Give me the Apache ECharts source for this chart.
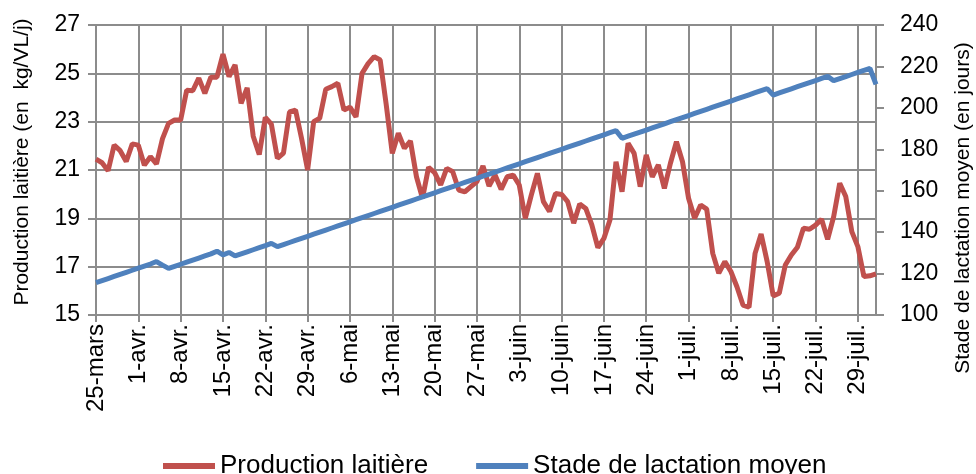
<!DOCTYPE html>
<html>
<head>
<meta charset="utf-8">
<script src="https://cdn.jsdelivr.net/npm/echarts@6/dist/echarts.min.js"></script>
<style>
  html, body { margin: 0; padding: 0; background: #fff; }
  #chart { width: 976px; height: 474px; }
</style>
</head>
<body>
<div id="chart"></div>
<script>
// months shown on the x axis: [label, first day, last day]
const months = [['mars', 25, 31], ['avr.', 1, 30], ['mai', 1, 31], ['juin', 1, 30], ['juil.', 1, 31], ['août', 1, 1]];

const dates = [];
months.forEach(m => {
  for (let d = m[1]; d <= m[2]; d++) dates.push(d + '-' + m[0]);
});

// kg/VL/j
const production = [
  21.45, 21.3, 20.97, 22.03, 21.8, 21.35, 22.08, 22.03, 21.2, 21.55,
  21.25, 22.3, 22.93, 23.07, 23.07, 24.3, 24.28, 24.8, 24.17, 24.84,
  24.84, 25.79, 24.86, 25.35, 23.76, 24.4, 22.4, 21.64, 23.18, 22.9,
  21.48, 21.7, 23.4, 23.48, 22.3, 21.0, 23.0, 23.14, 24.34, 24.45,
  24.59, 23.48, 23.6, 23.2, 25.0, 25.4, 25.69, 25.55, 23.7, 21.69,
  22.52, 21.9, 22.2, 20.72, 19.83, 21.11, 20.89, 20.38, 21.07, 20.93,
  20.17, 20.1, 20.31, 20.52, 21.17, 20.34, 20.79, 20.2, 20.72, 20.79,
  20.38, 19.0, 19.97, 20.86, 19.69, 19.28, 20.03, 19.99, 19.69, 18.8,
  19.59, 19.41, 18.73, 17.79, 18.17, 18.93, 21.34, 20.1, 22.1, 21.69,
  20.31, 21.62, 20.72, 21.21, 20.24, 21.28, 22.17, 21.34, 19.83, 19.0,
  19.55, 19.38, 17.55, 16.73, 17.21, 16.8, 16.17, 15.41, 15.32, 17.55,
  18.35, 17.21, 15.79, 15.9, 17.07, 17.48, 17.8, 18.59, 18.55, 18.72,
  18.96, 18.13, 19.07, 20.45, 19.9, 18.45, 17.83, 16.59, 16.62, 16.7
];

// jours
const stade = [
  115.6, 116.6, 117.6, 118.6, 119.6, 120.6, 121.6, 122.6, 123.6, 124.6,
  125.8, 124.1, 122.5, 123.5, 124.5, 125.5, 126.5, 127.5, 128.5, 129.5,
  130.8, 129.0, 130.2, 128.5, 129.5, 130.5, 131.5, 132.5, 133.5, 134.6,
  133.0, 134, 135, 136, 137, 138, 139, 140, 141, 142,
  143, 144, 145, 146, 147, 148, 149, 150, 151, 152,
  153, 154, 155, 156, 157, 158, 159, 160, 161, 162,
  163, 164, 165, 166, 167, 168, 169, 170, 171, 172,
  173, 174, 175, 176, 177, 178, 179, 180, 181, 182,
  183, 184, 185, 186, 187, 188, 189, 185.3, 186.3, 187.3,
  188.3, 189.3, 190.3, 191.3, 192.3, 193.3, 194.3, 195.3, 196.3, 197.3,
  198.3, 199.3, 200.3, 201.3, 202.3, 203.3, 204.3, 205.3, 206.3, 207.3,
  208.3, 209.3, 206.2, 207.2, 208.2, 209.2, 210.2, 211.2, 212.2, 213.2,
  214.2, 215.2, 213.1, 214.1, 215.1, 216.1, 217.1, 218.1, 219.0, 211.3
];

const gridGrey = '#8c8c8c';
const font = 'Liberation Sans, Arial, sans-serif';

const chart = echarts.init(document.getElementById('chart'));

let option = {
  animation: false,
  textStyle: { fontFamily: font },
  grid: { left: 96, right: 100, top: 25, bottom: 159 },
  legend: {
    data: ['Production laitière', 'Stade de lactation moyen'],
    left: 158,
    top: 448,
    icon: 'rect',
    itemWidth: 52,
    itemHeight: 6,
    itemGap: 48,
    textStyle: { fontSize: 26, color: '#000', fontFamily: font }
  },
  // right axis title sits lower than the plot centre in the original
  graphic: [{
    type: 'text',
    x: 963,
    y: 208,
    rotation: Math.PI / 2,
    style: {
      text: 'Stade de lactation moyen (en jours)',
      fontSize: 21,
      fontFamily: font,
      fill: '#000',
      align: 'center',
      verticalAlign: 'middle'
    }
  }],
  xAxis: {
    type: 'category',
    data: dates,
    boundaryGap: false,
    axisLine: { lineStyle: { color: gridGrey, width: 2 } },
    axisTick: { interval: 6, length: 7, lineStyle: { color: gridGrey, width: 2 } },
    axisLabel: { interval: 6, rotate: 90, fontSize: 24, color: '#000', margin: 9, padding: [8, 0, 0, 0] },
    splitLine: { show: true, interval: 6, lineStyle: { color: gridGrey, width: 2 } }
  },
  yAxis: [
    {
      type: 'value',
      min: 15,
      max: 27,
      interval: 2,
      name: 'Production laitière (en  kg/VL/j)',
      nameLocation: 'middle',
      nameRotate: 90,
      nameGap: 63,
      nameTextStyle: { fontSize: 21, color: '#000', padding: [0, 0, 0, 16] },
      axisLine: { show: true, lineStyle: { color: gridGrey, width: 2 } },
      axisTick: { show: true, length: 8, lineStyle: { color: gridGrey, width: 2 } },
      axisLabel: { fontSize: 23, color: '#000', margin: 16 },
      splitLine: { lineStyle: { color: gridGrey, width: 2 } }
    },
    {
      type: 'value',
      min: 100,
      max: 240,
      interval: 20,
      position: 'right',
      axisLine: { show: true, lineStyle: { color: gridGrey, width: 2 } },
      axisTick: { show: true, length: 8, lineStyle: { color: gridGrey, width: 2 } },
      axisLabel: { fontSize: 23, color: '#000', margin: 24 },
      splitLine: { show: false }
    }
  ],
  series: [
    {
      name: 'Production laitière',
      type: 'line',
      yAxisIndex: 0,
      data: production,
      symbol: 'none',
      lineStyle: { color: '#C0504D', width: 5 },
      itemStyle: { color: '#C0504D' }
    },
    {
      name: 'Stade de lactation moyen',
      type: 'line',
      yAxisIndex: 1,
      data: stade,
      symbol: 'none',
      lineStyle: { color: '#4F81BD', width: 5 },
      itemStyle: { color: '#4F81BD' }
    }
  ]
};

chart.setOption(option);
</script>
</body>
</html>
